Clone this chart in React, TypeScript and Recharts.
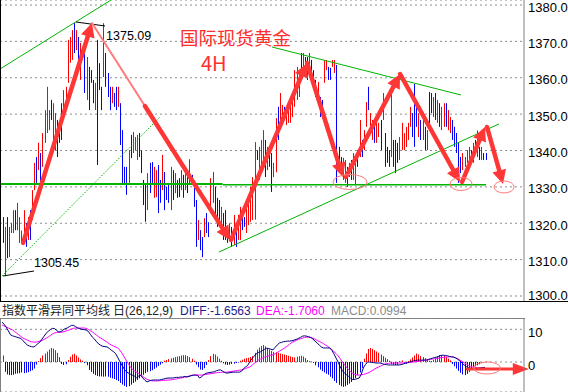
import React from "react";
import {
  ComposedChart,
  Bar,
  Line,
  XAxis,
  YAxis,
  CartesianGrid,
  ReferenceLine,
  ReferenceDot,
  Cell,
} from "recharts";

// ---------- price bars (high / low / direction) ----------
const highs = [
  1321.7, 1319.0, 1321.7, 1319.0, 1320.0, 1323.6, 1323.6, 1325.6, 1321.7, 1318.0,
  1323.6, 1320.0, 1321.7, 1323.6, 1329.1, 1336.6, 1338.2, 1342.1, 1339.3, 1344.8,
  1351.1, 1357.5, 1351.1, 1353.9, 1353.0, 1350.3, 1348.4, 1345.6, 1353.0, 1356.6,
  1357.5, 1370.4, 1371.2, 1373.1, 1375.09, 1373.1, 1371.2, 1369.6, 1368.5, 1366.8,
  1365.7, 1363.0, 1362.1, 1359.4, 1358.6, 1370.4, 1364.0, 1357.5, 1375.0, 1366.8,
  1361.3, 1357.5, 1357.5, 1355.8, 1357.5, 1357.5, 1353.0, 1345.6, 1335.5, 1335.5,
  1340.1, 1344.3, 1345.1, 1343.7, 1344.3, 1344.8, 1340.0, 1331.9, 1330.5, 1333.8,
  1336.6, 1336.8, 1335.5, 1334.6, 1336.0, 1331.9, 1338.8, 1334.1, 1330.0, 1331.1,
  1335.5, 1334.6, 1333.8, 1331.9, 1332.4, 1334.6, 1333.3, 1335.2, 1332.7, 1337.6,
  1333.3, 1329.7, 1326.4, 1320.9, 1318.1, 1316.2, 1321.4, 1322.8, 1320.3, 1332.4,
  1334.1, 1330.0, 1327.0, 1326.4, 1324.5, 1322.8, 1323.6, 1319.0, 1320.0, 1319.0,
  1322.3, 1320.0, 1322.3, 1324.5, 1321.7, 1321.7, 1324.5, 1327.8, 1330.0, 1332.7,
  1342.3, 1340.1, 1341.0, 1342.9, 1345.6, 1342.9, 1341.0, 1339.3, 1339.3, 1336.6,
  1348.9, 1352.0, 1355.8, 1352.5, 1352.0, 1351.1, 1352.0, 1354.7, 1354.7, 1362.1,
  1363.0, 1361.3, 1366.8, 1366.8, 1365.7, 1365.7, 1366.8, 1364.9, 1362.1, 1359.4,
  1358.8, 1354.7, 1353.9, 1364.9, 1364.9, 1363.0, 1362.7, 1364.9, 1364.9, 1363.5,
  1341.0, 1338.2, 1338.0, 1337.4, 1335.5, 1336.6, 1337.4, 1339.3, 1336.6, 1340.1,
  1348.4, 1342.9, 1345.6, 1353.3, 1357.5, 1350.3, 1348.4, 1346.5, 1347.6, 1347.6,
  1348.4, 1355.8, 1344.8, 1341.0, 1340.1, 1356.6, 1342.9, 1342.9, 1342.1, 1343.7,
  1347.6, 1344.8, 1346.5, 1347.6, 1352.0, 1350.3, 1358.3, 1352.0, 1350.3, 1348.4,
  1349.2, 1346.5, 1345.6, 1356.1, 1355.8, 1354.7, 1355.8, 1353.9, 1353.0, 1352.0,
  1353.0, 1353.0, 1351.1, 1349.2, 1348.4, 1346.5, 1344.8, 1342.1, 1338.2, 1339.3,
  1338.2, 1340.1, 1341.0, 1340.1, 1342.1, 1342.9, 1345.5, 1341.0, 1341.0, 1339.3,
  1339.3,
];

const lows = [
  1314.6, 1305.45, 1310.4, 1310.7, 1317.3, 1317.3, 1318.1, 1318.1, 1314.6, 1314.6,
  1315.4, 1313.5, 1315.4, 1315.4, 1320.9, 1329.1, 1331.1, 1334.6, 1331.1, 1335.5,
  1342.1, 1344.8, 1345.6, 1348.4, 1342.1, 1340.1, 1338.2, 1342.1, 1342.9, 1348.4,
  1352.0, 1358.6, 1364.1, 1364.9, 1366.8, 1367.6, 1362.1, 1359.4, 1365.7, 1355.8,
  1353.9, 1351.1, 1358.6, 1353.0, 1351.1, 1336.0, 1356.6, 1351.1, 1360.2, 1357.5,
  1354.7, 1351.1, 1353.0, 1352.0, 1351.1, 1352.0, 1341.5, 1331.1, 1330.5, 1327.8,
  1331.1, 1337.9, 1339.3, 1340.1, 1337.4, 1338.2, 1333.8, 1325.0, 1320.4, 1323.6,
  1328.3, 1331.1, 1327.0, 1327.2, 1322.8, 1325.6, 1329.1, 1323.6, 1326.4, 1325.6,
  1323.6, 1326.4, 1328.3, 1327.0, 1327.2, 1329.1, 1327.0, 1329.1, 1328.3, 1330.5,
  1330.5, 1324.5, 1313.5, 1315.4, 1312.6, 1310.7, 1316.2, 1317.3, 1316.2, 1322.8,
  1325.6, 1321.7, 1319.0, 1319.0, 1317.3, 1315.4, 1315.4, 1314.6, 1315.4, 1313.5,
  1314.0, 1313.5, 1315.4, 1315.4, 1318.1, 1319.0, 1317.3, 1319.5, 1320.4, 1320.9,
  1321.0, 1337.4, 1331.9, 1334.6, 1336.6, 1332.7, 1334.6, 1335.5, 1328.6, 1332.7,
  1334.0, 1342.9, 1346.5, 1347.8, 1348.4, 1347.0, 1347.6, 1347.6, 1349.2, 1352.0,
  1353.9, 1354.7, 1360.2, 1363.0, 1362.1, 1359.4, 1363.0, 1358.6, 1357.5, 1354.7,
  1353.9, 1349.2, 1350.3, 1358.6, 1362.1, 1359.4, 1359.4, 1363.0, 1361.3, 1331.1,
  1333.8, 1334.6, 1331.9, 1331.1, 1330.0, 1332.7, 1331.9, 1331.9, 1330.5, 1335.5,
  1338.2, 1338.2, 1340.1, 1346.5, 1351.1, 1346.5, 1342.9, 1342.1, 1342.1, 1343.7,
  1340.1, 1348.4, 1335.5, 1336.6, 1335.5, 1338.2, 1335.5, 1333.8, 1336.6, 1337.4,
  1340.1, 1340.1, 1341.0, 1342.9, 1346.5, 1343.7, 1341.0, 1346.5, 1343.7, 1342.9,
  1342.9, 1340.1, 1340.1, 1346.5, 1350.3, 1349.2, 1348.4, 1347.6, 1346.5, 1345.6,
  1346.5, 1346.5, 1345.6, 1344.8, 1342.9, 1341.0, 1339.3, 1331.1, 1333.8, 1334.6,
  1335.5, 1336.6, 1337.4, 1337.4, 1336.6, 1339.3, 1338.2, 1337.4, 1337.4, 1337.4,
  1337.4,
];

// 1 = up bar (red), 0 = down bar (blue)
const upFlags = [
  0, 1, 0, 1, 1, 1, 0, 1, 1, 1,
  1, 0, 1, 0, 1, 1, 0, 1, 0, 1,
  1, 1, 1, 0, 1, 1, 0, 0, 0, 1,
  1, 1, 1, 1, 0, 1, 0, 1, 1, 0,
  1, 0, 0, 0, 1, 0, 0, 0, 1, 0,
  0, 0, 1, 0, 0, 1, 0, 0, 0, 0,
  1, 0, 1, 1, 1, 0, 0, 0, 0, 1,
  0, 0, 1, 1, 0, 0, 1, 0, 0, 0,
  1, 0, 1, 0, 0, 1, 0, 1, 0, 1,
  0, 0, 0, 1, 0, 0, 1, 0, 0, 1,
  1, 0, 0, 0, 1, 0, 0, 0, 1, 0,
  1, 0, 1, 1, 0, 0, 1, 1, 1, 1,
  1, 0, 1, 1, 1, 0, 1, 0, 0, 1,
  1, 0, 1, 1, 0, 1, 1, 1, 1, 1,
  1, 1, 0, 1, 0, 0, 1, 0, 0, 0,
  1, 0, 0, 1, 1, 0, 0, 1, 1, 0,
  0, 0, 1, 1, 0, 1, 0, 1, 1, 0,
  1, 0, 1, 1, 0, 1, 1, 0, 1, 1,
  0, 1, 0, 0, 0, 1, 0, 0, 0, 1,
  1, 1, 1, 1, 1, 0, 0, 0, 1, 0,
  1, 0, 1, 0, 0, 1, 0, 1, 0, 1,
  1, 0, 1, 1, 0, 0, 0, 0, 0, 1,
  1, 1, 1, 0, 1, 0, 1, 0, 1, 0,
  0,
];

// ---------- MACD panel ----------
const diffValues = [
  12.2, 11.5, 10.6, 9.5, 8.3, 8.0, 7.8, 7.6, 7.4, 7.2,
  6.5, 5.8, 5.2, 4.9, 4.7, 4.6, 5.0, 5.6, 6.1, 7.0,
  7.9, 8.8, 9.4, 9.9, 10.3, 10.2, 9.6, 9.2, 9.3, 9.8,
  10.2, 10.4, 10.8, 11.2, 11.2, 10.8, 10.4, 10.2, 10.0, 9.9,
  9.8, 9.4, 8.5, 7.6, 7.0, 6.2, 5.5, 5.1, 4.8, 4.7,
  4.6, 4.2, 3.6, 3.2, 2.6, 1.5, 0.2, -0.9, -2.0, -2.9,
  -3.3, -3.7, -4.0, -4.3, -4.8, -4.3, -4.1, -4.9, -5.6, -6.1,
  -5.8, -5.6, -5.5, -5.5, -5.5, -5.5, -5.3, -5.2, -5.0, -4.9,
  -4.9, -4.9, -4.8, -4.7, -4.7, -4.6, -4.6, -4.4, -4.6, -4.4,
  -4.2, -4.0, -4.0, -4.0, -4.9, -4.5, -3.9, -3.5, -3.3, -3.2,
  -3.1, -3.0, -2.7, -2.5, -2.4, -2.8, -3.2, -3.4, -3.3, -3.2,
  -3.1, -3.1, -3.1, -3.1, -2.8, -2.0, -1.5, -1.0, 0.2, 1.0,
  1.8, 2.5, 2.9, 3.1, 3.5, 3.9, 4.2, 4.1, 3.9, 3.7,
  4.5, 5.2, 5.8, 6.0, 6.2, 6.3, 6.4, 6.4, 6.5, 6.7,
  6.9, 7.2, 7.5, 7.9, 8.0, 7.9, 7.7, 7.5, 7.0, 6.4,
  5.8, 5.2, 4.6, 4.3, 4.3, 4.3, 4.3, 3.6, 2.5, 1.2,
  0.0, -1.5, -2.6, -3.4, -3.9, -4.4, -5.0, -5.4, -5.3, -5.1,
  -4.9, -3.8, -1.8, -0.8, 0.0, 0.0, -0.1, -0.2, -0.3, -0.3,
  -0.3, -0.5, -0.7, -0.8, -0.9, -0.9, -0.9, -0.9, -0.9, -0.9,
  -0.8, -0.6, -0.4, -0.2, 0.0, 0.2, 0.4, 0.5, 0.6, 0.6,
  0.6, 0.6, 0.6, 0.8, 1.0, 1.2, 1.4, 1.5, 1.8, 2.0,
  2.1, 2.0, 1.9, 1.7, 1.6, 1.5, 1.2, 0.8, 0.3, -0.3,
  -0.9, -1.4, -1.7, -1.9, -2.0, -2.1, -2.0, -1.9, -1.8, -1.7,
  -1.66,
];

const deaValues = [
  11.3, 11.0, 10.7, 10.4, 10.1, 9.8, 9.3, 8.8, 8.3, 7.8,
  7.3, 7.0, 6.7, 6.4, 6.2, 6.1, 6.1, 6.2, 6.4, 6.6,
  6.9, 7.3, 7.7, 8.1, 8.6, 8.9, 9.0, 9.1, 9.1, 9.2,
  9.4, 9.6, 9.8, 10.1, 10.3, 10.4, 10.4, 10.4, 10.4, 10.4,
  10.3, 10.0, 9.6, 9.2, 8.7, 8.2, 7.7, 7.3, 6.9, 6.5,
  6.1, 5.6, 5.2, 4.9, 4.6, 4.3, 3.7, 2.8, 1.7, 0.6,
  -0.4, -1.4, -2.2, -2.7, -3.1, -3.5, -4.0, -4.4, -4.9, -5.3,
  -5.5, -5.7, -5.8, -5.8, -5.8, -5.7, -5.7, -5.6, -5.6, -5.5,
  -5.5, -5.4, -5.3, -5.2, -5.0, -4.9, -4.8, -4.6, -4.5, -4.3,
  -4.1, -4.0, -4.0, -4.0, -4.0, -4.0, -3.9, -3.8, -3.7, -3.6,
  -3.5, -3.4, -3.3, -3.2, -3.2, -3.1, -3.1, -3.1, -3.0, -2.9,
  -2.8, -2.7, -2.6, -2.5, -2.4, -2.2, -2.0, -1.7, -1.5, -1.0,
  -0.4, 0.1, 0.6, 0.9, 1.2, 1.5, 1.7, 1.9, 2.1, 2.2,
  2.5, 2.9, 3.3, 3.7, 4.1, 4.5, 5.0, 5.5, 6.0, 6.3,
  6.6, 6.9, 7.1, 7.3, 7.5, 7.6, 7.6, 7.5, 7.3, 7.0,
  6.6, 6.3, 6.0, 5.6, 5.2, 4.8, 4.3, 3.8, 3.2, 2.6,
  1.9, 1.0, 0.1, -0.8, -1.6, -2.4, -3.0, -3.5, -3.8, -4.0,
  -4.0, -3.9, -3.8, -3.6, -3.4, -3.1, -2.7, -2.3, -1.9, -1.6,
  -1.3, -1.0, -0.7, -0.5, -0.4, -0.3, -0.3, -0.3, -0.3, -0.3,
  -0.3, -0.3, -0.2, -0.2, -0.1, -0.1, 0.0, 0.1, 0.2, 0.3,
  0.4, 0.5, 0.6, 0.7, 0.8, 0.9, 1.0, 1.1, 1.2, 1.3,
  1.4, 1.5, 1.5, 1.6, 1.6, 1.5, 1.3, 1.0, 0.6, 0.2,
  -0.2, -0.6, -1.0, -1.3, -1.5, -1.6, -1.7, -1.8, -1.8, -1.75,
  -1.71,
];

const histValues = [
  2.0, -3.0, -3.8, -4.0, -4.0, -3.9, -3.6, -3.5, -3.4, -3.2,
  -3.4, -3.3, -3.1, -2.8, -2.5, -2.0, -0.8, 0.3, 1.2, 2.0,
  2.6, 3.2, 3.8, 4.3, 4.1, 3.6, 2.8, 1.5, -0.6, -0.9,
  -0.7, 0.6, 1.6, 2.3, 2.5, 2.0, 1.4, 0.8, 0.4, -0.3,
  -1.0, -2.4, -3.0, -3.6, -4.0, -4.3, -4.4, -4.4, -4.5, -4.4,
  -4.5, -4.8, -5.0, -5.2, -5.5, -5.8, -6.4, -6.9, -7.3, -7.6,
  -7.4, -6.9, -6.4, -6.0, -5.5, -5.0, -4.4, -3.9, -3.4, -3.0,
  -2.8, -2.5, -2.1, -1.7, -1.2, -0.8, -0.4, 0.4, 0.6, 0.9,
  1.1, 1.3, 1.5, 1.7, 1.8, 2.0, 2.1, 2.1, 1.8, 1.5,
  1.0, 0.4, -0.8, -1.6, -2.3, -2.4, -1.9, -0.9, 0.6, 1.8,
  2.5, 2.3, 1.7, 1.0, 0.4, -0.4, -0.8, -0.9, -0.8, -0.6,
  -0.5, -0.3, -0.2, 0.4, 0.7, 1.0, 1.2, 1.3, 1.5, 1.8,
  2.8, 3.8, 4.4, 4.9, 5.2, 4.8, 4.3, 3.8, 3.4, 3.1,
  3.0, 2.8, 2.6, 2.4, 2.3, 2.1, 1.9, 1.7, 1.5, 1.4,
  1.6, 1.8, 1.9, 1.7, 1.2, 0.6, 0.3, 0.1, -0.3, -1.0,
  -1.6, -2.3, -2.8, -3.2, -3.6, -3.9, -4.5, -5.0, -5.8, -6.4,
  -7.0, -7.4, -7.6, -7.4, -7.0, -6.6, -6.1, -5.5, -4.9, -4.0,
  -3.2, -1.8, 1.0, 2.6, 4.0, 4.3, 4.0, 3.6, 3.2, 2.8,
  2.3, 1.8, 1.3, 0.9, 0.4, -0.6, -0.8, -0.9, -0.8, 0.3,
  0.5, -0.4, -0.5, 0.3, 0.8, 1.4, 2.0, 2.6, 2.3, 1.8,
  1.5, 1.2, 0.8, 0.4, 0.3, 0.6, 1.2, 1.7, 2.1, 2.0,
  1.8, 1.5, 1.0, 0.5, -0.6, -1.3, -2.0, -2.7, -3.3, -3.8,
  -4.0, -3.6, -3.0, -2.3, -1.8, -1.3, -1.0, -0.7, -0.4, -0.2,
  0.1,
];

const priceTicks = [1300, 1310, 1320, 1330, 1340, 1350, 1360, 1370, 1380];
const macdTicks = [0, 10];

// ---------- drawn annotations (bar index, price) ----------
const greenLines = [
  { from: [-1, 1362.41], to: [51.85, 1381.37], w: 1, dash: undefined },
  { from: [-0.05, 1305.5], to: [75.2, 1349.2], w: 1, dash: "1.5 1.5" },
  { from: [-1, 1330.8], to: [105, 1330.8], w: 2, dash: undefined },
  { from: [105, 1330.55], to: [230.4, 1330.55], w: 1.5, dash: undefined },
  { from: [128.5, 1368.45], to: [218.5, 1355.26], w: 1, dash: undefined },
  { from: [103.3, 1312.1], to: [236.6, 1347.3], w: 1, dash: undefined },
];

const blackLines = [
  { from: [35.2, 1375.33], to: [49.0, 1374.23] },
  { from: [0.43, 1305.5], to: [15.2, 1306.87] },
];

const trendArrows = [
  { from: [10.0, 1314.6], to: [42.8, 1375.05], head: true, thin: false },
  { from: [42.8, 1375.05], to: [68.0, 1352.23], head: false, thin: true },
  { from: [68.0, 1352.23], to: [108.5, 1315.4], head: true, thin: false },
  { from: [109.0, 1315.4], to: [145.2, 1364.06], head: true, thin: false },
  { from: [145.2, 1364.06], to: [162.3, 1332.72], head: true, thin: false },
  { from: [163.7, 1332.72], to: [189.5, 1361.03], head: true, thin: false },
  { from: [189.5, 1361.03], to: [218.0, 1331.34], head: true, thin: false },
  { from: [219.0, 1331.34], to: [229.9, 1346.46], head: true, thin: false },
  { from: [230.9, 1346.46], to: [238.5, 1330.79], head: true, thin: false },
];

const priceCircles = [
  { at: [165.65, 1331.34], rx: 17, ry: 7.5 },
  { at: [218.5, 1330.79], rx: 11, ry: 6.5 },
  { at: [239.0, 1329.97], rx: 10, ry: 6 },
];

const priceLabels = [
  { at: [49.5, 1370.38], text: "1375.09" },
  { at: [15.2, 1307.97], text: "1305.45" },
];

const macdArrow = { from: [221.4, -2.14], to: [250.8, -2.14] };
const macdCircle = { at: [230.9, -1.83], rx: 13.5, ry: 6 };

// ---------- derived tables ----------
const candleData = highs.map((h, i) => ({ i, range: [lows[i], h], up: upFlags[i] }));
const macdData = diffValues.map((d, i) => ({ i, diff: d, dea: deaValues[i], hist: histValues[i] }));

const X_DOMAIN: [number, number] = [-1, 248.5];
const PRICE_DOMAIN: [number, number] = [1298.35, 1381.375];
const MACD_DOMAIN: [number, number] = [-9.17, 13.46];

const RED = "#ff0000";
const BLUE = "#0000ff";
const GREEN = "#00b400";
const ARROW = "#ff3636";
const FONT = "'Liberation Sans', Arial, sans-serif";
const CJK = "'Noto Sans CJK SC', 'Noto Sans', sans-serif";

const VBar = (props: any) => {
  const { x, y, width, height, fill } = props;
  if (x == null || y == null || !isFinite(height)) return null;
  const cx = Math.round(x + width / 2) + 0.5;
  return <line x1={cx} x2={cx} y1={y} y2={y + height} stroke={fill} strokeWidth={1} />;
};

const makeArrow = (w: number, color: string, head: boolean, headLen = 14, headHalf = 7) => (props: any) => {
  const { x1, y1, x2, y2 } = props;
  if (![x1, y1, x2, y2].every((v) => typeof v === "number" && isFinite(v))) return <g />;
  const dx = x2 - x1;
  const dy = y2 - y1;
  const len = Math.hypot(dx, dy) || 1;
  const ux = dx / len;
  const uy = dy / len;
  if (!head) {
    return <line x1={x1} y1={y1} x2={x2} y2={y2} stroke={color} strokeWidth={w} strokeLinecap="round" />;
  }
  const bx = x2 - ux * headLen;
  const by = y2 - uy * headLen;
  const px = -uy;
  const py = ux;
  return (
    <g>
      <line x1={x1} y1={y1} x2={bx + ux * 2} y2={by + uy * 2} stroke={color} strokeWidth={w} strokeLinecap="round" />
      <polygon
        points={`${x2},${y2} ${bx + px * headHalf},${by + py * headHalf} ${bx - px * headHalf},${by - py * headHalf}`}
        fill={color}
      />
    </g>
  );
};

const ellipseShape = (rx: number, ry: number) => (props: any) => {
  const { cx, cy } = props;
  if (typeof cx !== "number" || typeof cy !== "number") return <g />;
  return <ellipse cx={cx} cy={cy} rx={rx} ry={ry} fill="none" stroke="#ff7a7a" strokeWidth={1} />;
};

const labelShape = (text: string) => (props: any) => {
  const { cx, cy } = props;
  if (typeof cx !== "number" || typeof cy !== "number") return <g />;
  return (
    <text x={cx} y={cy} fill="#000" fontSize={12.5} fontFamily={FONT}>
      {text}
    </text>
  );
};

const PriceTick = (props: any) => {
  const { x, y, payload } = props;
  const baseline = Math.min(y + 6.5, 300);
  return (
    <text x={x} y={baseline} fill="#000" fontSize={13} fontFamily={FONT}>
      {Number(payload.value).toFixed(1)}
    </text>
  );
};

const MacdTick = (props: any) => {
  const { x, y, payload } = props;
  return (
    <text x={x} y={y + 7.5} fill="#000" fontSize={13} fontFamily={FONT}>
      {String(payload.value)}
    </text>
  );
};

export default function App() {
  return (
    <div
      style={{
        position: "absolute",
        left: 0,
        top: 0,
        width: 568,
        height: 392,
        background: "#fff",
        overflow: "hidden",
      }}
    >
      {/* main price panel */}
      <div style={{ position: "absolute", left: 0, top: 0 }}>
        <ComposedChart width={568} height={302} data={candleData} margin={{ top: 0, right: 0, bottom: 0, left: 0 }}>
          <CartesianGrid horizontal vertical={false} stroke="#8c8c8c" strokeDasharray="2 3" />
          <XAxis type="number" dataKey="i" domain={X_DOMAIN} allowDataOverflow hide />
          <YAxis
            orientation="right"
            width={44}
            domain={PRICE_DOMAIN}
            allowDataOverflow
            ticks={priceTicks}
            interval={0}
            tickLine={false}
            tickSize={2}
            tickMargin={2}
            axisLine={{ stroke: "#808080" }}
            tick={<PriceTick />}
          />
          <Bar dataKey="range" barSize={1} isAnimationActive={false} shape={<VBar />}>
            {candleData.map((d) => (
              <Cell key={d.i} fill={d.up ? RED : BLUE} />
            ))}
          </Bar>
          {greenLines.map((g, k) => (
            <ReferenceLine
              key={"g" + k}
              segment={[
                { x: g.from[0], y: g.from[1] },
                { x: g.to[0], y: g.to[1] },
              ]}
              stroke={GREEN}
              strokeWidth={g.w}
              strokeDasharray={g.dash}
              ifOverflow="visible"
            />
          ))}
          {blackLines.map((b, k) => (
            <ReferenceLine
              key={"b" + k}
              segment={[
                { x: b.from[0], y: b.from[1] },
                { x: b.to[0], y: b.to[1] },
              ]}
              stroke="#000"
              strokeWidth={1}
              ifOverflow="visible"
            />
          ))}
          {priceCircles.map((c, k) => (
            <ReferenceDot
              key={"c" + k}
              x={c.at[0]}
              y={c.at[1]}
              r={c.rx}
              ifOverflow="visible"
              shape={ellipseShape(c.rx, c.ry)}
            />
          ))}
          {trendArrows.map((a, k) => (
            <ReferenceLine
              key={"a" + k}
              segment={[
                { x: a.from[0], y: a.from[1] },
                { x: a.to[0], y: a.to[1] },
              ]}
              ifOverflow="visible"
              shape={makeArrow(a.thin ? 2 : 4.5, a.thin ? "#ff7a7a" : ARROW, a.head)}
            />
          ))}
          {priceLabels.map((l, k) => (
            <ReferenceDot
              key={"l" + k}
              x={l.at[0]}
              y={l.at[1]}
              r={1}
              ifOverflow="visible"
              shape={labelShape(l.text)}
            />
          ))}
        </ComposedChart>
      </div>

      {/* title overlay */}
      <svg width={568} height={80} style={{ position: "absolute", left: 0, top: 0, pointerEvents: "none" }}>
        <text x={180} y={45} fill="#ff2e2e" fontSize={18.5} fontFamily={CJK}>
          国际现货黄金
        </text>
        <text x={201} y={71} fill="#ff2e2e" fontSize={20} fontFamily={CJK}>
          4H
        </text>
      </svg>

      {/* panel borders */}
      <div style={{ position: "absolute", left: 0, top: 0, width: 1, height: 302, background: "#000" }} />
      <div style={{ position: "absolute", left: 0, top: 301, width: 568, height: 1, background: "#000" }} />
      <div style={{ position: "absolute", left: 0, top: 318, width: 525, height: 1, background: "#808080" }} />
      <div style={{ position: "absolute", left: 0, top: 318, width: 1, height: 74, background: "#808080" }} />

      {/* MACD header */}
      <svg width={568} height={18} style={{ position: "absolute", left: 0, top: 301 }}>
        <text y={14} fontSize={12}>
          <tspan x={2} fill="#222" fontFamily={CJK}>
            指数平滑异同平均线
          </tspan>
          <tspan x={113} fill="#222" fontFamily={CJK}>
            日
          </tspan>
          <tspan x={125} fill="#222" fontFamily={FONT}>
            (26,12,9)
          </tspan>
          <tspan x={180} fill="#1c1c8c" fontFamily={FONT}>
            DIFF:-1.6563
          </tspan>
          <tspan x={256} fill="#ff00ff" fontFamily={FONT}>
            DEA:-1.7060
          </tspan>
          <tspan x={331} fill="#8c8c8c" fontFamily={FONT}>
            MACD:0.0994
          </tspan>
        </text>
      </svg>

      {/* MACD panel */}
      <div style={{ position: "absolute", left: 0, top: 318 }}>
        <ComposedChart width={568} height={74} data={macdData} margin={{ top: 0, right: 0, bottom: 0, left: 0 }}>
          <CartesianGrid horizontal vertical={false} stroke="#8c8c8c" strokeDasharray="2 3" />
          <XAxis type="number" dataKey="i" domain={X_DOMAIN} allowDataOverflow hide />
          <YAxis
            orientation="right"
            width={44}
            domain={MACD_DOMAIN}
            allowDataOverflow
            ticks={macdTicks}
            interval={0}
            tickLine={false}
            tickSize={2}
            tickMargin={2}
            axisLine={{ stroke: "#808080" }}
            tick={<MacdTick />}
          />
          <Bar dataKey="hist" barSize={1} isAnimationActive={false} shape={<VBar />}>
            {macdData.map((d) => (
              <Cell key={d.i} fill={d.hist >= 0 ? RED : BLUE} />
            ))}
          </Bar>
          <Line type="linear" dataKey="dea" stroke="#ff00ff" strokeWidth={1} dot={false} isAnimationActive={false} />
          <Line type="linear" dataKey="diff" stroke="#000080" strokeWidth={1} dot={false} isAnimationActive={false} />
          <ReferenceDot
            x={macdCircle.at[0]}
            y={macdCircle.at[1]}
            r={macdCircle.rx}
            ifOverflow="visible"
            shape={ellipseShape(macdCircle.rx, macdCircle.ry)}
          />
          <ReferenceLine
            segment={[
              { x: macdArrow.from[0], y: macdArrow.from[1] },
              { x: macdArrow.to[0], y: macdArrow.to[1] },
            ]}
            ifOverflow="visible"
            shape={makeArrow(3, ARROW, true, 16, 6)}
          />
        </ComposedChart>
      </div>
    </div>
  );
}
